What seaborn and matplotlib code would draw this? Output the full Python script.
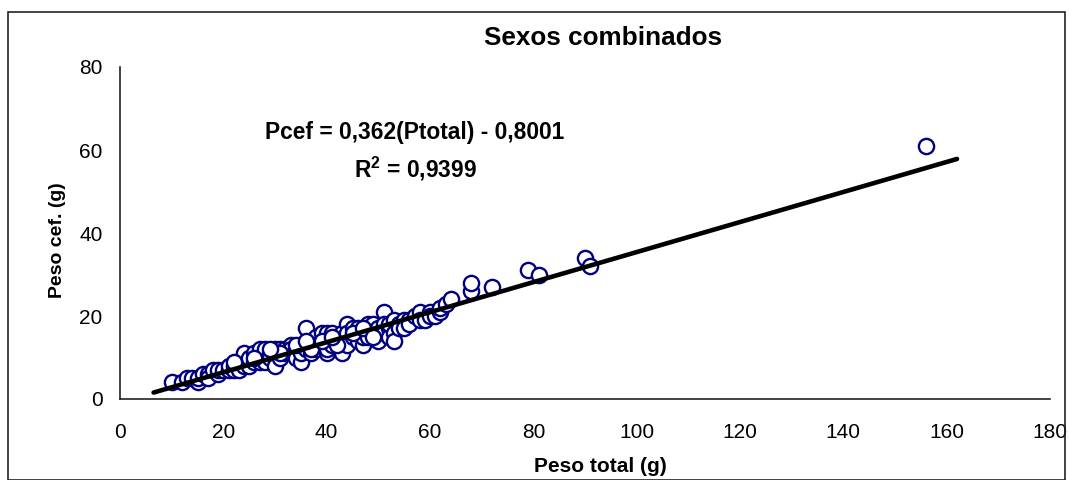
import matplotlib
matplotlib.use("Agg")
import matplotlib.pyplot as plt
import seaborn as sns
import numpy as np
import pandas as pd
from matplotlib.patches import Rectangle

# ---- data ----
peso_total = [10, 12, 13, 14, 15, 15, 16, 17, 17, 18, 19, 19, 20, 21, 21, 22, 22, 23, 23, 24,
              24, 24, 25, 25, 26, 26, 27, 27, 27, 28, 28, 28, 29, 29, 30, 30, 30, 31, 31, 32,
              32, 33, 33, 33, 34, 34, 35, 35, 35, 36, 36, 36, 37, 37, 38, 38, 38, 39, 39, 40,
              40, 40, 40, 41, 41, 42, 42, 43, 43, 43, 44, 44, 44, 45, 45, 46, 46, 46, 47, 47,
              48, 48, 48, 49, 49, 50, 50, 50, 51, 51, 51, 52, 52, 52, 53, 53, 53, 54, 54, 55,
              55, 56, 56, 57, 58, 58, 59, 60, 60, 61, 62, 62, 63, 64, 68, 68, 72, 79, 81, 90,
              91, 156, 26, 31, 34, 37, 39, 42, 45, 47, 49, 22, 29, 36, 41]
peso_cef = [4, 4, 5, 5, 4, 5, 6, 6, 5, 7, 6, 7, 7, 7, 8, 8, 7, 7, 9, 10,
            11, 8, 8, 10, 9, 11, 12, 10, 9, 11, 12, 9, 11, 10, 10, 8, 12, 12, 10, 12,
            11, 13, 11, 12, 12, 10, 13, 9, 11, 17, 13, 12, 14, 11, 15, 12, 13, 16, 13, 16,
            14, 11, 12, 16, 13, 15, 14, 14, 11, 16, 18, 16, 13, 15, 17, 17, 14, 16, 13, 15,
            17, 15, 18, 18, 16, 16, 14, 17, 21, 18, 16, 17, 15, 18, 19, 16, 14, 18, 17, 19,
            17, 19, 18, 20, 21, 19, 19, 21, 20, 20, 21, 22, 23, 24, 26, 28, 27, 31, 30, 34,
            32, 61, 10, 11, 13, 12, 14, 13, 16, 17, 15, 9, 12, 14, 15]

slope = 0.362
intercept = -0.8001
trend_x = [6.5, 162]
trend_y = [slope * v + intercept for v in trend_x]

x_ticks = [0, 20, 40, 60, 80, 100, 120, 140, 160, 180]
y_ticks = [0, 20, 40, 60, 80]

title = "Sexos combinados"
x_label = "Peso total (g)"
y_label = "Peso cef. (g)"
eq_text = "Pcef = 0,362(Ptotal) - 0,8001"
r2_text = "R$^{\\mathbf{2}}$ = 0,9399"

# ---- plot ----
sns.set_style("white")
plt.rcParams['font.family'] = ['Liberation Sans', 'DejaVu Sans']
plt.rcParams['mathtext.fontset'] = 'custom'
plt.rcParams['mathtext.rm'] = 'Liberation Sans:bold'
plt.rcParams['mathtext.bf'] = 'Liberation Sans:bold'
plt.rcParams['text.color'] = 'black'
plt.rcParams['axes.labelcolor'] = 'black'

fig = plt.figure(figsize=(10.7, 4.8), dpi=100)
ax = fig.add_axes([120 / 1070, 1 - 399 / 480, 930 / 1070, 332 / 480])

df = pd.DataFrame({"x": peso_total, "y": peso_cef})
sns.scatterplot(data=df, x="x", y="y", ax=ax, marker="o", s=120,
                facecolor="white", edgecolor="#000080", linewidth=1.7, zorder=2)
tr = pd.DataFrame({"x": trend_x, "y": trend_y})
sns.lineplot(data=tr, x="x", y="y", ax=ax, color="black", linewidth=3.3, zorder=3)

ax.set_xlim(0, 180)
ax.set_ylim(0, 80)
ax.set_xticks(x_ticks)
ax.set_yticks(y_ticks)
ax.tick_params(axis="both", direction="inout", length=13, width=1, colors="black",
               labelsize=15)
ax.tick_params(axis="x", pad=11)
ax.tick_params(axis="y", pad=6)
for side in ["top", "right"]:
    ax.spines[side].set_visible(False)
for side in ["left", "bottom"]:
    ax.spines[side].set_color("#222222")
    ax.spines[side].set_linewidth(1.2)

ax.set_xlabel("")
ax.set_ylabel("")
fig.text(57 / 1070, 1 - 240 / 480, y_label, ha="center", va="center",
         rotation=90, fontsize=14, fontweight="bold")
fig.text(600 / 1070, 1 - 467 / 480, x_label, ha="center", va="center",
         fontsize=15, fontweight="bold")

fig.text(603 / 1070, 1 - 38 / 480, title, ha="center", va="center",
         fontsize=18.8, fontweight="bold")
fig.text(415 / 1070, 1 - 133 / 480, eq_text, ha="center", va="center",
         fontsize=16.4, fontweight="bold")
fig.text(415 / 1070, 1 - 169 / 480, r2_text, ha="center", va="center",
         fontsize=16.4, fontweight="bold")

fig.patches.append(Rectangle((8 / 1070, 0), 1057 / 1070, 1 - 12 / 480,
                             transform=fig.transFigure, fill=False,
                             edgecolor="#222222", linewidth=1.2))

fig.savefig("out.png", dpi=100)
